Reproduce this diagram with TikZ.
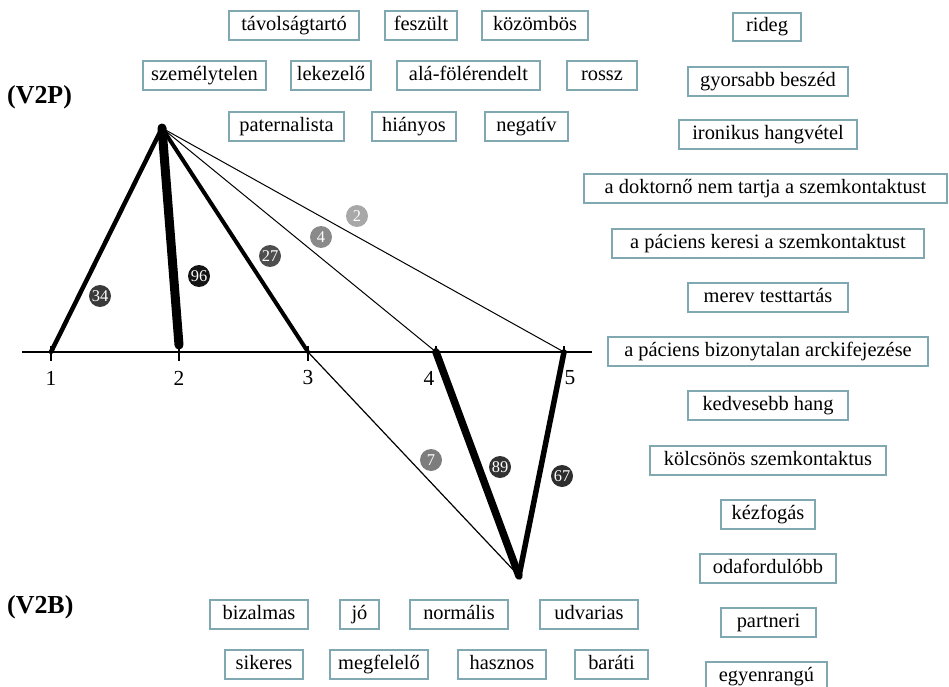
\documentclass[tikz,border=0pt]{standalone}
\usepackage{fontspec}
\setmainfont{Liberation Serif}
\definecolor{boxedge}{RGB}{127,168,176}
\definecolor{c34}{RGB}{58,58,58}
\definecolor{c96}{RGB}{20,20,20}
\definecolor{c27}{RGB}{78,78,78}
\definecolor{c4}{RGB}{138,138,138}
\definecolor{c2}{RGB}{168,168,168}
\definecolor{c7}{RGB}{125,125,125}
\definecolor{c89}{RGB}{50,50,50}
\definecolor{c67}{RGB}{46,46,46}
% labelled box given by its outer edges: name, x1, y1, x2, y2, text
\newcommand\tagbox[6]{%
  \node[lbl, minimum width={(#4-#2-2)*1bp}, minimum height={(#5-#3-2)*1bp}]
    (#1) at ({(#2+#4)/2},{(#3+#5)/2}) {#6};}
\begin{document}
\begin{tikzpicture}[x=1bp,y=-1bp,
  lbl/.style={draw=boxedge, line width=2bp, fill=white, inner sep=0pt,
    font=\fontsize{20.5}{24}\selectfont, text height=14bp, text depth=4bp},
  num/.style={circle, inner sep=0pt, minimum size=22bp, text=white,
    font=\fontsize{16.5}{17}\selectfont},
  axislbl/.style={font=\fontsize{21.5}{24}\selectfont, inner sep=0pt},
  grp/.style={font=\bfseries\fontsize{26}{30}\selectfont, inner sep=0pt, anchor=west},
  edge/.style={line cap=round, line join=round, black}
]
\useasboundingbox (0,0) rectangle (949,687);

% group headings
\node[grp] (v2p) at (7,97) {(V2P)};
\node[grp] (v2b) at (7,607) {(V2B)};

% scale axis
\coordinate (axL) at (22,352);
\coordinate (axR) at (592,352);
\draw[line width=1.3bp] (axL) -- (axR);
\foreach \i/\x in {1/51,2/179,3/308,4/436,5/564}{
  \coordinate (p\i) at (\x,352);
  \draw[line width=1.2bp] (\x,346) -- (\x,361);
}
\node[axislbl] (n1) at (51,378) {1};
\node[axislbl] (n2) at (179,378) {2};
\node[axislbl] (n3) at (308,378) {3};
\node[axislbl] (n4) at (429,378) {4};
\node[axislbl] (n5) at (570,378) {5};

% apexes of the two profiles
\coordinate (top) at (162,128);
\coordinate (bot) at (519,576);
\coordinate (e2) at (179,345);

% V2P profile
\draw[edge, line width=1bp] (top) -- (p5);
\draw[edge, line width=1bp] (top) -- (p4);
\draw[edge, line width=4bp] (top) -- (p3);
\draw[edge, line width=4.5bp] (top) -- (p1);
\draw[edge, line width=9bp] (top) -- (e2);

% V2B profile
\draw[edge, line width=1.2bp] (bot) -- (p3);
\draw[edge, line width=7.5bp] (bot) -- (p4);
\draw[edge, line width=5.5bp] (bot) -- (p5);

% frequencies
\node[num, fill=c34] (f34) at (100,296) {34};
\node[num, fill=c96] (f96) at (199,276) {96};
\node[num, fill=c27] (f27) at (270,256) {27};
\node[num, fill=c4]  (f4)  at (321,237) {4};
\node[num, fill=c2]  (f2)  at (357,216) {2};
\node[num, fill=c7]  (f7)  at (431,460) {7};
\node[num, fill=c89] (f89) at (500,467) {89};
\node[num, fill=c67] (f67) at (562,476) {67};

% V2P descriptors
\tagbox{b1}{228}{10}{360}{41}{távolságtartó}
\tagbox{b2}{384}{10}{458}{41}{feszült}
\tagbox{b3}{481}{10}{589}{41}{közömbös}
\tagbox{b4}{142}{60}{267}{91}{személytelen}
\tagbox{b5}{290}{60}{372}{91}{lekezelő}
\tagbox{b6}{396}{60}{541}{91}{alá-fölérendelt}
\tagbox{b7}{566}{60}{638}{91}{rossz}
\tagbox{b8}{228}{111}{345}{142}{paternalista}
\tagbox{b9}{371}{111}{457}{142}{hiányos}
\tagbox{b10}{484}{111}{569}{142}{negatív}

% right column
\tagbox{r1}{732}{12}{802}{42}{rideg}
\tagbox{r2}{687}{66}{849}{97}{gyorsabb beszéd}
\tagbox{r3}{678}{119}{858}{150}{ironikus hangvétel}
\tagbox{r4}{583}{173}{948}{204}{a doktornő nem tartja a szemkontaktust}
\tagbox{r5}{611}{228}{925}{259}{a páciens keresi a szemkontaktust}
\tagbox{r6}{687}{282}{849}{313}{merev testtartás}
\tagbox{r7}{607}{336}{929}{367}{a páciens bizonytalan arckifejezése}
\tagbox{r8}{687}{390}{849}{421}{kedvesebb hang}
\tagbox{r9}{649}{445}{887}{476}{kölcsönös szemkontaktus}
\tagbox{r10}{720}{499}{816}{530}{kézfogás}
\tagbox{r11}{699}{553}{837}{584}{odafordulóbb}
\tagbox{r12}{720}{607}{817}{638}{partneri}
\tagbox{r13}{705}{661}{828}{692}{egyenrangú}

% V2B descriptors
\tagbox{c1}{209}{599}{309}{630}{bizalmas}
\tagbox{c2}{339}{599}{380}{630}{jó}
\tagbox{c3}{409}{599}{509}{630}{normális}
\tagbox{c4}{539}{599}{639}{630}{udvarias}
\tagbox{c5}{224}{649}{304}{680}{sikeres}
\tagbox{c6}{329}{649}{429}{680}{megfelelő}
\tagbox{c7}{457}{649}{547}{680}{hasznos}
\tagbox{c8}{574}{649}{649}{680}{baráti}
\end{tikzpicture}
\end{document}
